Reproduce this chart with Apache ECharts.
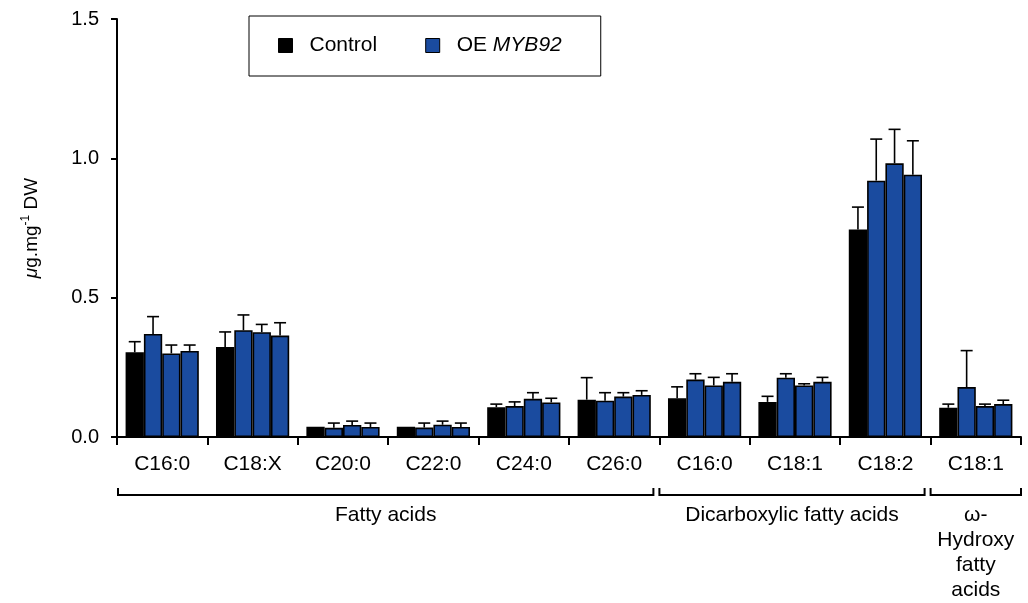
<!DOCTYPE html>
<html>
<head>
<meta charset="utf-8">
<script src="https://cdn.jsdelivr.net/npm/echarts@6/dist/echarts.min.js"></script>
<style>html,body{margin:0;padding:0;background:#fff;}#main{width:1028px;height:603px;}</style>
</head>
<body>
<div id="main"></div>
<script>
// ---- data ----
const categories = ['C16:0','C18:X','C20:0','C22:0','C24:0','C26:0','C16:0','C18:1','C18:2','C18:1'];
const control    = [0.304, 0.323, 0.037, 0.037, 0.107, 0.134, 0.139, 0.126, 0.745, 0.105];
const controlSD  = [0.038, 0.054, 0.000, 0.000, 0.011, 0.079, 0.041, 0.020, 0.080, 0.013];
const oe1        = [0.370, 0.383, 0.033, 0.034, 0.111, 0.130, 0.206, 0.213, 0.920, 0.179];
const oe1SD      = [0.062, 0.055, 0.017, 0.016, 0.015, 0.029, 0.021, 0.014, 0.149, 0.131];
const oe2        = [0.300, 0.376, 0.043, 0.044, 0.137, 0.145, 0.185, 0.185, 0.982, 0.111];
const oe2SD      = [0.030, 0.028, 0.014, 0.013, 0.022, 0.014, 0.029, 0.006, 0.122, 0.007];
const oe3        = [0.309, 0.364, 0.036, 0.036, 0.124, 0.151, 0.198, 0.198, 0.941, 0.118];
const oe3SD      = [0.021, 0.046, 0.014, 0.014, 0.015, 0.015, 0.029, 0.016, 0.122, 0.014];
const yTicks     = [0, 0.5, 1.0, 1.5];
const groupRanges = [[0, 5], [6, 8], [9, 9]];
const groupLabels = ['Fatty acids', 'Dicarboxylic fatty acids', 'ω-\nHydroxy\nfatty\nacids'];

// ---- chart ----
const FONT = '"Liberation Sans", Arial, Helvetica, sans-serif';
const BLUE = '#1a4b9f';
const CAT_GAP = 0.19;
const NBARS = 4;
const FS = 21;

const allMeans = [control, oe1, oe2, oe3];
const allSD = [controlSD, oe1SD, oe2SD, oe3SD];
const errData = [];
allMeans.forEach((arr, s) => {
  arr.forEach((v, i) => {
    if (allSD[s][i] > 0) errData.push([i, s, v, v + allSD[s][i]]);
  });
});

const chart = echarts.init(document.getElementById('main'), null, {renderer: 'canvas'});

function barSeries(name, data, color) {
  return {
    name, type: 'bar', data,
    barGap: '0%', barCategoryGap: (CAT_GAP * 100) + '%',
    itemStyle: {color, borderColor: '#000', borderWidth: 1.6},
    emphasis: {disabled: true}
  };
}

const option = {
  animation: false,
  textStyle: {fontFamily: FONT},
  grid: {left: 117, right: 7, top: 19, bottom: 166, containLabel: false},
  legend: {
    data: ['Control', 'OE MYB92'],
    left: 249, top: 16,
    itemWidth: 14, itemHeight: 14, itemGap: 48,
    padding: [19, 39, 20, 29],
    borderColor: '#000', borderWidth: 1,
    icon: 'rect',
    itemStyle: {borderColor: '#000', borderWidth: 1},
    textStyle: {fontSize: FS, color: '#000', fontFamily: FONT, padding: [0, 0, 0, 12],
      rich: {i: {fontStyle: 'italic', fontSize: FS, fontFamily: FONT}}},
    formatter: n => n === 'OE MYB92' ? 'OE {i|MYB92}' : n,
    selectedMode: false
  },
  xAxis: {
    type: 'category', data: categories,
    axisLine: {lineStyle: {color: '#000', width: 2}},
    axisTick: {show: true, interval: 0, alignWithLabel: false, length: 8, lineStyle: {color: '#000', width: 2}},
    axisLabel: {interval: 0, fontSize: FS, color: '#000', margin: 17, fontFamily: FONT},
    splitLine: {show: false}
  },
  yAxis: {
    type: 'value', min: yTicks[0], max: yTicks[yTicks.length - 1], interval: 0.5,
    axisLine: {show: true, lineStyle: {color: '#000', width: 2}},
    axisTick: {show: true, length: 6, lineStyle: {color: '#000', width: 2}},
    axisLabel: {formatter: v => v.toFixed(1), fontSize: 20, color: '#000', margin: 18, fontFamily: FONT},
    splitLine: {show: false},
    name: '{mu|μ}g.mg{sup|-1} DW',
    nameLocation: 'middle', nameRotate: 90, nameGap: 74,
    nameTextStyle: {fontSize: 19, color: '#000', fontFamily: FONT,
      rich: {
        mu: {fontStyle: 'italic', fontSize: 19, fontFamily: FONT},
        sup: {fontSize: 12, padding: [0, 0, 11, 0], fontFamily: FONT}
      }}
  },
  series: [
    barSeries('Control', control, '#000'),
    barSeries('OE MYB92', oe1, BLUE),
    barSeries('OE MYB92', oe2, BLUE),
    barSeries('OE MYB92', oe3, BLUE),
    {
      type: 'custom', name: 'err', data: errData, clip: false, z: 5,
      encode: {x: 0, y: [2, 3]},
      renderItem(params, api) {
        const cat = api.value(0), s = api.value(1), v = api.value(2), u = api.value(3);
        const cw = api.size([1, 0])[0];
        const bw = cw * (1 - CAT_GAP) / NBARS;
        const p = api.coord([cat, v]);
        const x = p[0] + (s - (NBARS - 1) / 2) * bw;
        const y2 = api.coord([cat, u])[1];
        const cap = 6;
        return {
          type: 'group',
          children: [
            {type: 'line', shape: {x1: x, y1: p[1], x2: x, y2: y2}, style: {stroke: '#000', lineWidth: 1.6}},
            {type: 'line', shape: {x1: x - cap, y1: y2, x2: x + cap, y2: y2}, style: {stroke: '#000', lineWidth: 1.6}}
          ]
        };
      },
      tooltip: {show: false}
    },
    {
      type: 'custom', name: 'groups', clip: false, z: 5,
      data: groupRanges.map(r => [r[0], r[1], 0]),
      encode: {x: [0, 1], y: 2},
      renderItem(params, api) {
        const i = params.dataIndex;
        const s = api.value(0), e = api.value(1);
        const cw = api.size([1, 0])[0];
        const ps = api.coord([s, 0]);
        const pe = api.coord([e, 0]);
        const last = i === groupRanges.length - 1;
        const x0 = ps[0] - cw / 2 + (i === 0 ? 1 : 0);
        const x1 = pe[0] + cw / 2 - (last ? 0 : 6);
        const base = ps[1];
        const yl = base + 58, yt = base + 51;
        return {
          type: 'group',
          children: [
            {type: 'polyline', shape: {points: [[x0, yt], [x0, yl], [x1, yl], [x1, yt]]},
              style: {stroke: '#000', lineWidth: 2, fill: null}},
            {type: 'text', style: {text: groupLabels[i], x: (x0 + x1) / 2, y: base + 66,
              align: 'center', verticalAlign: 'top', fontSize: FS, lineHeight: 25,
              fill: '#000', fontFamily: FONT}}
          ]
        };
      }
    }
  ]
};
chart.setOption(option);
</script>
</body>
</html>
